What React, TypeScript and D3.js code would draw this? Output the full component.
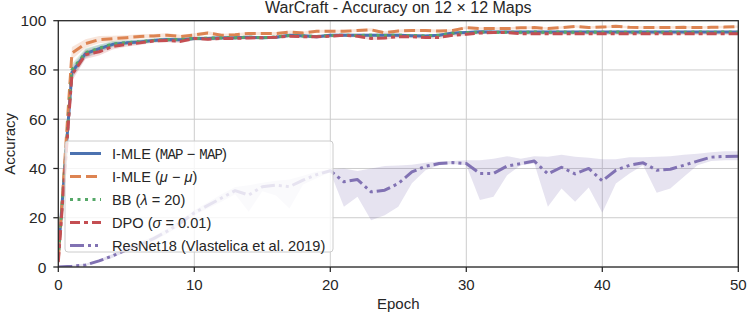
import * as d3 from "d3";
import React from "react";

// epochs 0..50
const epochs = d3.range(0, 51);

const imleMap = [
  5, 79, 86.6, 88.6, 90.4, 91, 91.4, 92, 92.4, 92.3, 92.8, 92.8, 93.1, 93.1, 93.3, 93.1, 93.3,
  94.1, 93.9, 93.5, 94.1, 94.1, 94.1, 94.1, 94.1, 94.1, 93.9, 93.8, 94.1, 95, 95.2, 95.5, 95.4, 95.4,
  95.4, 95.4, 95.4, 95.4, 95.4, 95.4, 95.4, 95.4, 95.4, 95.4, 95.4, 95.4, 95.4, 95.4, 95.4, 95.4, 95.4,
];
const imleMu = [
  3, 86.8, 90.7, 92.3, 92.7, 93.1, 93.6, 93.8, 94.1, 93.6, 94.2, 95, 94.1, 94.3, 94.8, 94.8, 94.8,
  95.4, 95, 95.7, 95.7, 95.7, 96, 96.3, 95.1, 95.8, 96, 96, 95.8, 96, 97.2, 96.8, 96.8, 96.8,
  97.1, 97.2, 96.8, 97.2, 97.7, 97.2, 97.4, 97.7, 97.3, 97.2, 97.2, 97.2, 97.3, 97.2, 97.3, 97.4, 97.6,
];
const bb = [
  4, 80, 87, 88.8, 90.6, 91.1, 91.5, 92, 92.3, 92.4, 92.8, 92.9, 93, 93.1, 93.3, 93.1, 93.4,
  94, 93.8, 93.6, 94, 94.1, 94, 94.1, 94, 94.1, 94, 93.8, 94.1, 94.9, 95.2, 95.4, 95.3, 95.3,
  95.3, 95.4, 95.3, 95.4, 95.3, 95.4, 95.3, 95.4, 95.3, 95.4, 95.3, 95.4, 95.3, 95.4, 95.3, 95.4, 95.3,
];
const dpo = [
  2, 78, 86.2, 87.4, 89.5, 90.4, 91, 91.8, 92, 91.6, 92.8, 92.5, 92.8, 92.8, 93, 93.1, 93.3,
  93.7, 93.5, 93.5, 93.7, 94.1, 93.7, 92.8, 93, 93.5, 93.5, 93.2, 93.2, 94.1, 94.5, 95, 95.2, 95.2,
  94.7, 94.7, 94.7, 94.7, 94.7, 94.7, 94.7, 94.7, 94.7, 94.7, 94.7, 94.7, 94.7, 94.7, 94.7, 94.7, 94.7,
];
const resnet = [
  0, 0.3, 0.8, 2.5, 4.5, 7, 9, 11.5, 14.5, 18, 22, 25, 28, 31, 29.2, 32.6, 33.2, 32.6, 35.3, 37.5, 39.1,
  34.6, 35.5, 30.5, 31.2, 33.9, 38.6, 40.9, 42, 42.4, 42, 38, 38, 41, 42, 43, 37.8, 40.5, 37.8, 40,
  35, 39.3, 41.3, 42.3, 39.3, 39.7, 41.3, 43, 44.6, 44.9, 45,
];
const resnetLow = [
  0, 0, 0.4, 2, 3.8, 6.2, 8, 10.5, 13.5, 17, 21, 23.8, 26.5, 29.5, 22.4, 30.8, 29, 23.8, 33.5, 36, 38.5,
  24.5, 28.5, 19, 21, 24.5, 34, 39.3, 41.3, 41.8, 41.3, 27.2, 28.5, 37.3, 41.3, 42, 24.5, 31.9, 26.5, 32.3,
  22, 33.9, 38, 41.3, 30.1, 31.9, 36.6, 41.3, 43, 43.3, 43.3,
];
const resnetHigh = [
  0.4, 0.8, 1.3, 3, 5.3, 7.8, 10, 12.5, 15.5, 19, 23, 26.3, 29.5, 32.5, 33.2, 34.2, 35, 35.5, 37, 38.8, 39.6,
  40, 39, 40, 41, 41.2, 41.5, 42.3, 42.8, 43, 43.3, 43.3, 44, 45, 44, 45, 44.8, 45.6, 44.8, 44.4,
  43.7, 43.7, 44.6, 44.6, 44.8, 45, 45.6, 46, 46.6, 47, 47,
];
// half-width of the shaded band for the four main methods
const mainSpread = [
  1.5, 2.5, 1.8, 1.5, 1.2, 1, 0.9, 0.8, 0.8, 0.7, 0.7, 0.7, 0.6, 0.6, 0.6, 0.6, 0.6,
  0.6, 0.6, 0.6, 0.6, 0.6, 0.6, 0.6, 0.6, 0.6, 0.6, 0.6, 0.6, 0.5, 0.5, 0.5, 0.5, 0.5,
  0.5, 0.5, 0.5, 0.5, 0.5, 0.5, 0.5, 0.5, 0.5, 0.5, 0.5, 0.5, 0.5, 0.5, 0.5, 0.5, 0.5,
];

const xTicks = [0, 10, 20, 30, 40, 50];
const yTicks = [0, 20, 40, 60, 80, 100];

const W = 747;
const H = 313;
const FONT = "'Liberation Sans', Arial, Helvetica, sans-serif";
const MONO = "'Liberation Mono', 'DejaVu Sans Mono', monospace";

type Series = {
  key: string;
  values: number[];
  lo: number[];
  hi: number[];
  color: string;
  dash: string | undefined;
};

const series: Series[] = [
  { key: "map", values: imleMap, lo: imleMap.map((v, i) => v - mainSpread[i]), hi: imleMap.map((v, i) => v + mainSpread[i]), color: "#4c72b0", dash: undefined },
  { key: "mu", values: imleMu, lo: imleMu.map((v, i) => v - mainSpread[i]), hi: imleMu.map((v, i) => v + mainSpread[i]), color: "#dd8452", dash: "11,5" },
  { key: "bb", values: bb, lo: bb.map((v, i) => v - mainSpread[i]), hi: bb.map((v, i) => v + mainSpread[i]), color: "#55a868", dash: "3,4.5" },
  { key: "dpo", values: dpo, lo: dpo.map((v, i) => v - mainSpread[i]), hi: dpo.map((v, i) => v + mainSpread[i]), color: "#c44e52", dash: "10,4,4,4" },
  { key: "resnet", values: resnet, lo: resnetLow, hi: resnetHigh, color: "#8172b3", dash: "14,4,3,4,3,4" },
];

const monoStyle = { letterSpacing: "-0.8px" };

const legendLabels: React.ReactNode[] = [
  <>I-MLE (<tspan fontFamily={MONO} fontSize={14} style={monoStyle}>MAP</tspan> − <tspan fontFamily={MONO} fontSize={14} style={monoStyle}>MAP</tspan>)</>,
  <>I-MLE (<tspan fontStyle="italic">μ</tspan> − <tspan fontStyle="italic">μ</tspan>)</>,
  <>BB (<tspan fontStyle="italic">λ</tspan> = 20)</>,
  <>DPO (<tspan fontStyle="italic">σ</tspan> = 0.01)</>,
  <>ResNet18 (Vlastelica et al. 2019)</>,
];

export default function App() {
  const x = d3.scaleLinear().domain([0, 50]).range([58.3, 738.3]);
  const y = d3.scaleLinear().domain([0, 100]).range([267, 20.7]);

  const line = (vals: number[]) =>
    d3.line<number>().x((_, i) => x(epochs[i])).y((v) => y(v))(vals) || "";
  const band = (lo: number[], hi: number[]) =>
    d3
      .area<number>()
      .x((i) => x(epochs[i]))
      .y0((i) => y(Math.max(0, lo[i])))
      .y1((i) => y(hi[i]))(epochs.map((_, i) => i)) || "";

  const [x0, x1] = x.range();
  const [yb, yt] = y.range();

  const legX = 65;
  const legY = 141;
  const legW = 268;
  const legH = 111;

  return (
    <svg width={W} height={H} style={{ position: "absolute", left: 0, top: 0 }} fontFamily={FONT}>
      <rect width={W} height={H} fill="#fff" />
      {/* grid */}
      {xTicks.map((t) => (
        <line key={"gx" + t} x1={x(t)} x2={x(t)} y1={yb} y2={yt} stroke="#cccccc" strokeWidth={1} />
      ))}
      {yTicks.map((t) => (
        <line key={"gy" + t} x1={x0} x2={x1} y1={y(t)} y2={y(t)} stroke="#cccccc" strokeWidth={1} />
      ))}
      <defs>
        <clipPath id="plot">
          <rect x={x0} y={yt} width={x1 - x0} height={yb - yt} />
        </clipPath>
      </defs>
      <g clipPath="url(#plot)">
        {series.map((s) => (
          <path key={"b" + s.key} d={band(s.lo, s.hi)} fill={s.color} fillOpacity={0.2} stroke="none" />
        ))}
        {series.map((s) => (
          <path
            key={"l" + s.key}
            d={line(s.values)}
            fill="none"
            stroke={s.color}
            strokeWidth={3}
            strokeDasharray={s.dash}
            strokeLinejoin="round"
          />
        ))}
      </g>
      {/* frame */}
      <rect x={x0} y={yt} width={x1 - x0} height={yb - yt} fill="none" stroke="#262626" strokeWidth={1.25} />
      {/* ticks */}
      {xTicks.map((t) => (
        <g key={"tx" + t}>
          <line x1={x(t)} x2={x(t)} y1={yb} y2={yb + 5} stroke="#262626" strokeWidth={1.25} />
          <text x={x(t)} y={yb + 23} textAnchor="middle" fontSize={15} fill="#262626">
            {t}
          </text>
        </g>
      ))}
      {yTicks.map((t) => (
        <g key={"ty" + t}>
          <line x1={x0 - 5} x2={x0} y1={y(t)} y2={y(t)} stroke="#262626" strokeWidth={1.25} />
          <text x={x0 - 12} y={y(t) + 5.5} textAnchor="end" fontSize={15.5} fill="#262626">
            {t}
          </text>
        </g>
      ))}
      <text x={(x0 + x1) / 2} y={309} textAnchor="middle" fontSize={15} fill="#262626">
        Epoch
      </text>
      <text
        transform={`translate(15,${(yb + yt) / 2}) rotate(-90)`}
        textAnchor="middle"
        fontSize={15}
        fill="#262626"
      >
        Accuracy
      </text>
      <text x={(x0 + x1) / 2} y={13} textAnchor="middle" fontSize={16} fill="#262626">
        WarCraft - Accuracy on 12 × 12 Maps
      </text>
      {/* legend */}
      <rect x={legX} y={legY} width={legW} height={legH} rx={3} fill="#fff" fillOpacity={0.8} stroke="#cccccc" strokeWidth={1} />
      {series.map((s, i) => {
        const cy = legY + 12.5 + i * 23;
        return (
          <g key={"lg" + s.key}>
            <line x1={legX + 5} x2={legX + 36} y1={cy} y2={cy} stroke={s.color} strokeWidth={3} strokeDasharray={s.dash} />
            <text x={legX + 47} y={cy + 5} fontSize={14.6} fill="#262626">
              {legendLabels[i]}
            </text>
          </g>
        );
      })}
    </svg>
  );
}
